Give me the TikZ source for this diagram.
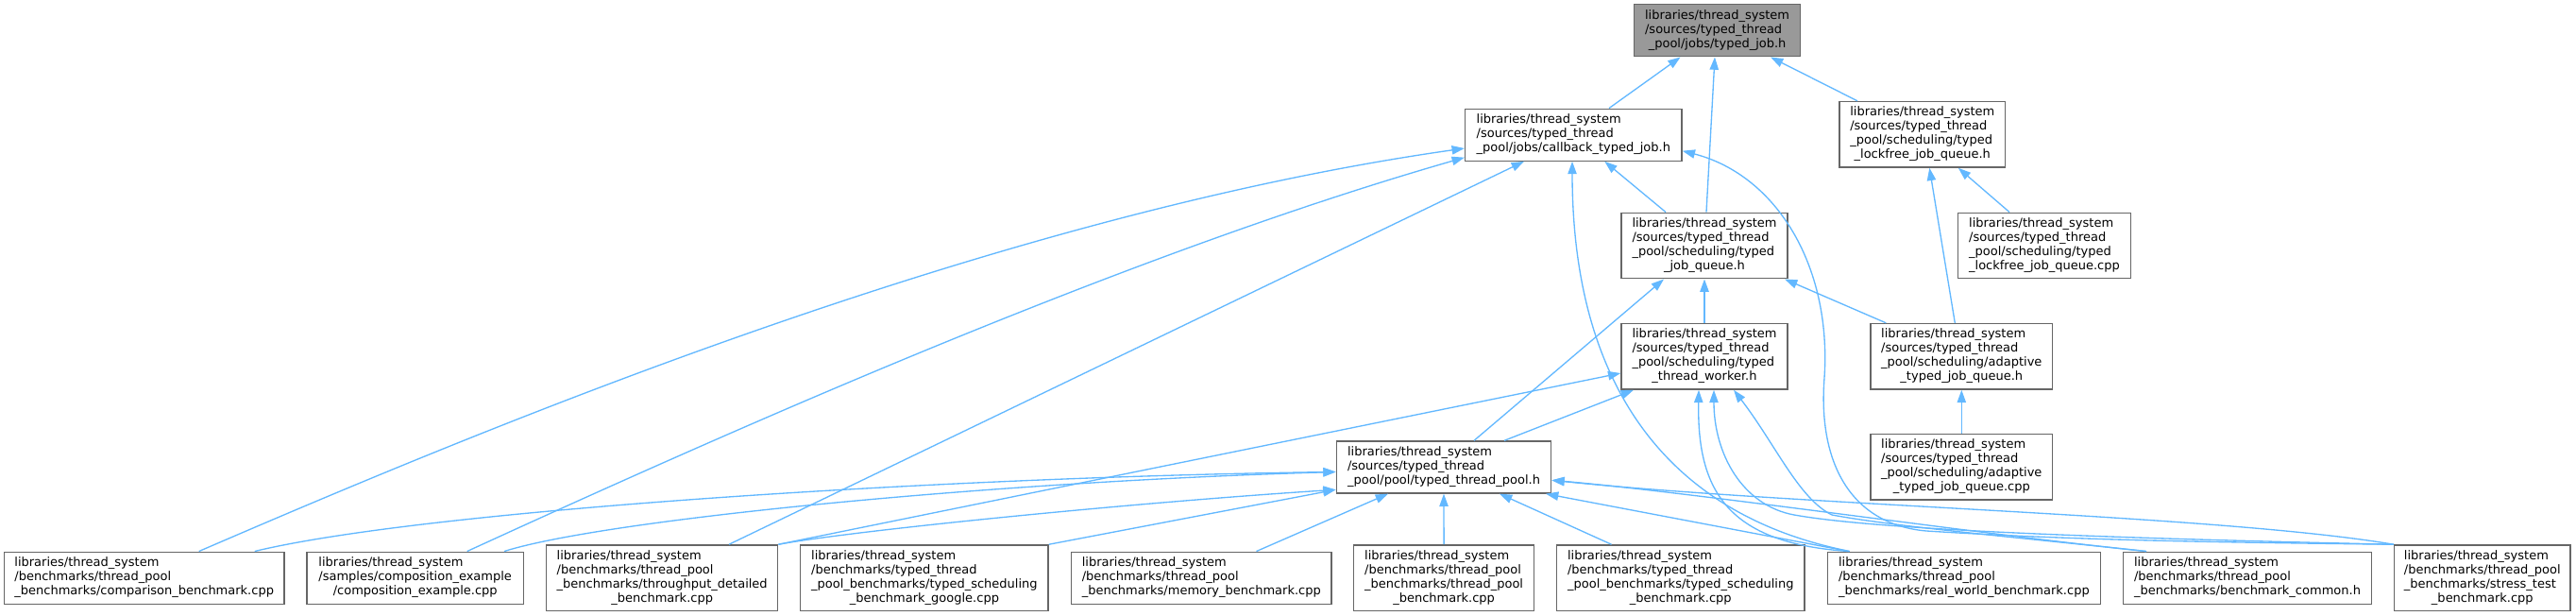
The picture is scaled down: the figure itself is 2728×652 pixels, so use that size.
\documentclass[tikz,border=0pt]{standalone}
\usepackage{fontspec}
\setmainfont{DejaVu Sans}
\usetikzlibrary{arrows.meta,calc}
\definecolor{edgeblue}{HTML}{63B8FF}
\definecolor{nodeborder}{HTML}{666666}
\definecolor{rootfill}{HTML}{999999}
\renewcommand\arraystretch{1}
\newcommand\lblthree[2]{\begin{tabular}{@{}l@{}}libraries/thread\_system\\#1\\\multicolumn{1}{@{}c@{}}{#2}\end{tabular}}
\newcommand\lblfour[3]{\begin{tabular}{@{}l@{}}libraries/thread\_system\\#1\\#2\\\multicolumn{1}{@{}c@{}}{#3}\end{tabular}}
\tikzset{
  box/.style={draw=nodeborder, fill=white, line width=1pt, inner sep=0pt,
    font=\fontsize{9.75pt}{11.25pt}\selectfont, minimum height=41.25pt},
  boxfour/.style={box, minimum height=52.2pt},
  dep/.style={draw=edgeblue, line width=1pt, -{Triangle[length=10pt,width=7pt]}},
}
\begin{document}
\begin{tikzpicture}[x=0.75pt, y=-0.75pt]
\useasboundingbox (0,0) rectangle (2728,652);
% nodes
\node[box, fill=rootfill, minimum width=132pt] (T) at (1818.6,32.3) {\lblthree{/sources/typed\_thread}{\_pool/jobs/typed\_job.h}};
\node[box, minimum width=172.1pt] (C) at (1666.3,142.7) {\lblthree{/sources/typed\_thread}{\_pool/jobs/callback\_typed\_job.h}};
\node[boxfour, minimum width=131.7pt] (LFH) at (2035.8,142.3) {\lblfour{/sources/typed\_thread}{\_pool/scheduling/typed}{\_lockfree\_job\_queue.h}};
\node[boxfour, minimum width=132pt] (JQ) at (1805,260) {\lblfour{/sources/typed\_thread}{\_pool/scheduling/typed}{\_job\_queue.h}};
\node[boxfour, minimum width=137.3pt] (LFC) at (2165,260) {\lblfour{/sources/typed\_thread}{\_pool/scheduling/typed}{\_lockfree\_job\_queue.cpp}};
\node[boxfour, minimum width=132pt] (TW) at (1805,377.3) {\lblfour{/sources/typed\_thread}{\_pool/scheduling/typed}{\_thread\_worker.h}};
\node[boxfour, minimum width=144.4pt] (ADH) at (2077.3,377.3) {\lblfour{/sources/typed\_thread}{\_pool/scheduling/adaptive}{\_typed\_job\_queue.h}};
\node[box, minimum width=170.5pt] (TTP) at (1529,494.5) {\lblthree{/sources/typed\_thread}{\_pool/pool/typed\_thread\_pool.h}};
\node[boxfour, minimum width=144.4pt] (ADC) at (2077.3,494.3) {\lblfour{/sources/typed\_thread}{\_pool/scheduling/adaptive}{\_typed\_job\_queue.cpp}};
\node[box, minimum width=222.2pt] (CMP) at (152.7,611.7) {\lblthree{/benchmarks/thread\_pool}{\_benchmarks/comparison\_benchmark.cpp}};
\node[box, minimum width=172.2pt] (CMPX) at (439.7,611.7) {\lblthree{/samples/composition\_example}{/composition\_example.cpp}};
\node[boxfour, minimum width=183.8pt] (THR) at (701.2,611.7) {\lblfour{/benchmarks/thread\_pool}{\_benchmarks/throughput\_detailed}{\_benchmark.cpp}};
\node[boxfour, minimum width=196.7pt] (GOO) at (978.9,611.7) {\lblfour{/benchmarks/typed\_thread}{\_pool\_benchmarks/typed\_scheduling}{\_benchmark\_google.cpp}};
\node[box, minimum width=206.3pt] (MEM) at (1272.3,611.7) {\lblthree{/benchmarks/thread\_pool}{\_benchmarks/memory\_benchmark.cpp}};
\node[boxfour, minimum width=143pt] (TPB) at (1529.1,611.7) {\lblfour{/benchmarks/thread\_pool}{\_benchmarks/thread\_pool}{\_benchmark.cpp}};
\node[boxfour, minimum width=196.9pt] (TSB) at (1779.8,611.7) {\lblfour{/benchmarks/typed\_thread}{\_pool\_benchmarks/typed\_scheduling}{\_benchmark.cpp}};
\node[box, minimum width=216.4pt] (RW) at (2079.9,611.7) {\lblthree{/benchmarks/thread\_pool}{\_benchmarks/real\_world\_benchmark.cpp}};
\node[box, minimum width=197.1pt] (BC) at (2380,611.7) {\lblthree{/benchmarks/thread\_pool}{\_benchmarks/benchmark\_common.h}};
\node[boxfour, minimum width=139.8pt] (ST) at (2628.8,611.7) {\lblfour{/benchmarks/thread\_pool}{\_benchmarks/stress\_test}{\_benchmark.cpp}};
% edges into typed_job.h
\draw[dep] ($(C.north)+(37.7,0)$) -- ($(T.south)+(-39,0)$);
\draw[dep] ($(JQ.north)+(2,0)$) -- ($(T.south)+(-2.6,0)$);
\draw[dep] ($(LFH.north)+(-68.8,0)$) -- ($(T.south)+(56.4,0)$);
% edges into callback_typed_job.h
\draw[dep] ($(CMP.north)+(58,0)$) .. controls (511,454) and (1051,228) .. ($(C.west)+(0,14.3)$);
\draw[dep] ($(CMPX.north)+(55,0)$) .. controls (795,446) and (1201,267) .. ($(C.west)+(0,24)$);
\draw[dep] ($(THR.north)+(70.8,0)$) -- ($(C.south)+(-52.3,0)$);
\draw[dep] ($(RW.north)+(-121,0)$) .. controls (1759,544) and (1665,400) .. ($(C.south)+(-1.3,0)$);
\draw[dep] ($(JQ.north)+(-41,0)$) -- ($(C.south)+(33,0)$);
\draw[dep] (ST.north west) .. controls (2350,574) and (2200,572) .. (2040,562)
  .. controls (1960,555) and (1925,490) .. (1932,400)
  .. controls (1940,280) and (1880,185) .. ($(C.east)+(0,17)$);
% edges into typed_job_queue.h
\draw[dep] (TW.north) -- (JQ.south);
\draw[dep] ($(TTP.north)+(32,0)$) -- ($(JQ.south)+(-43,0)$);
\draw[dep] ($(ADH.north)+(-80,0)$) -- ($(JQ.south)+(85,0)$);
% edges into typed_thread_worker.h
\draw[dep] ($(TTP.north)+(64,0)$) -- ($(TW.south)+(-75,0)$);
\draw[dep] (THR.north east) -- ($(TW.west)+(0,17.7)$);
\draw[dep] ($(RW.north)+(-122,0)$) .. controls (1830,575) and (1797,520) .. ($(TW.south)+(-6,0)$);
\draw[dep] ($(BC.north)+(-107,0)$) .. controls (2150,570) and (2010,558) .. (1940,545)
  .. controls (1905,528) and (1880,470) .. ($(TW.south)+(31,0)$);
\draw[dep] (ST.north west) .. controls (2300,571) and (2000,563) .. (1900,545)
  .. controls (1845,535) and (1815,480) .. ($(TW.south)+(10,0)$);
% edges into typed_thread_pool.h
\draw[dep] ($(CMP.north)+(117,0)$) .. controls (450,540) and (1000,505) .. ($(TTP.west)+(0,5)$);
\draw[dep] ($(CMPX.north)+(94.3,0)$) .. controls (640,550) and (1050,510) .. ($(TTP.west)+(0,5)$);
\draw[dep] (THR.north east) .. controls (900,562) and (1200,532) .. ($(TTP.west)+(0,23.8)$);
\draw[dep] (GOO.north east) -- ($(TTP.west)+(0,23.8)$);
\draw[dep] ($(MEM.north)+(58.2,0)$) -- ($(TTP.south)+(-59,0)$);
\draw[dep] (TPB.north) -- (TTP.south);
\draw[dep] ($(TSB.north)+(-73.3,0)$) -- ($(TTP.south)+(59,0)$);
\draw[dep] ($(RW.north)+(-122,0)$) -- ($(TTP.south)+(108,0)$);
\draw[dep] ($(BC.north)+(-107,0)$) .. controls (2100,566) and (1800,522) .. ($(TTP.east)+(0,13.8)$);
\draw[dep] (ST.north west) .. controls (2350,545) and (1900,535) .. ($(TTP.east)+(0,13.8)$);
% lockfree / adaptive
\draw[dep] ($(ADH.north)+(-7,0)$) -- ($(LFH.south)+(7.5,0)$);
\draw[dep] ($(LFC.north)+(-37,0)$) -- ($(LFH.south)+(38,0)$);
\draw[dep] (ADC.north) -- (ADH.south);
\end{tikzpicture}
\end{document}
